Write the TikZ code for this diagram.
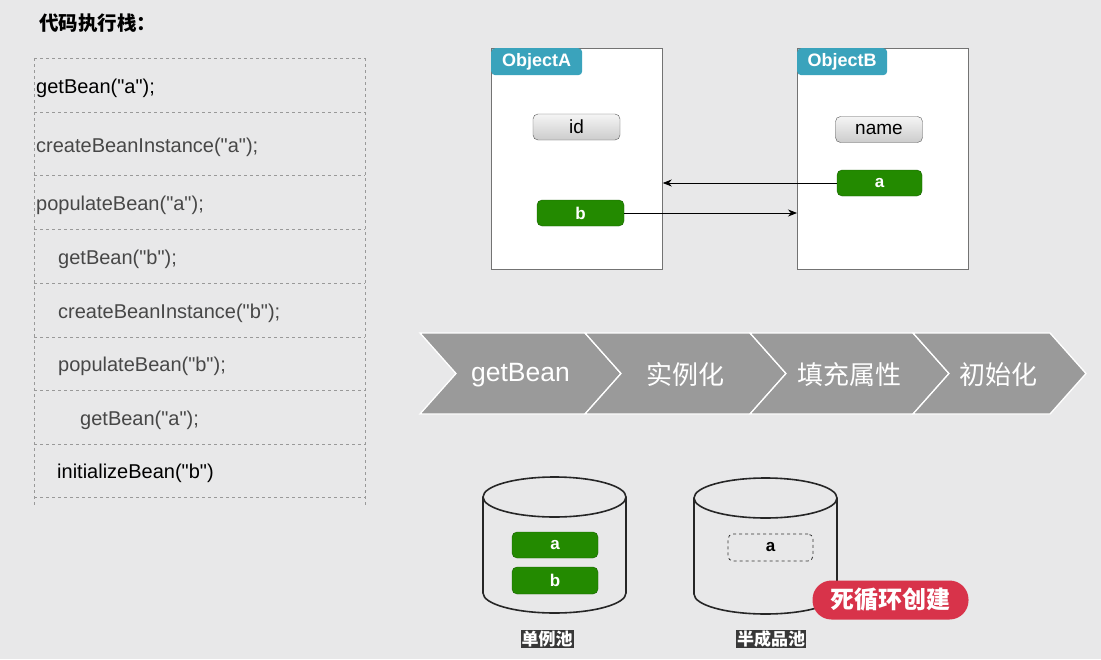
\documentclass[tikz,border=0pt]{standalone}
\usepackage{fontspec}
\setmainfont{Liberation Sans}[Ligatures=TeXOff]
\newfontfamily\cjk{Noto Sans CJK SC}
\usetikzlibrary{arrows.meta}
\definecolor{bg}{HTML}{E8E8E9}
\definecolor{tealtab}{HTML}{3AA3BC}
\definecolor{beangreen}{HTML}{238A00}
\definecolor{chev}{HTML}{9A9A9A}
\definecolor{pill}{HTML}{D8334A}
\definecolor{codegray}{HTML}{474747}
\tikzset{
  codeline/.style={anchor=west, inner sep=0pt, font=\fontsize{20}{20}\selectfont, text=codegray},
  sep/.style={draw=gray!80, dashed, line width=0.6pt},
  objbox/.style={draw=gray!90!black, fill=white, line width=0.8pt},
  tab/.style={fill=tealtab, rounded corners=4pt, text=white, font=\fontsize{18}{18}\selectfont\bfseries, anchor=north west, minimum width=91pt, minimum height=27pt, inner sep=0pt},
  field/.style={draw=gray!70!black, top color=gray!8, bottom color=gray!40, rounded corners=5pt, minimum width=87pt, minimum height=26pt, inner sep=0pt, font=\fontsize{19}{19}\selectfont},
  bean/.style={draw=beangreen!70!black, fill=beangreen, rounded corners=5pt, minimum width=87pt, minimum height=26pt, inner sep=0pt, text=white, font=\fontsize{17}{17}\selectfont\bfseries},
  ptr/.style={-{Stealth[length=9pt,width=7pt]}, line width=0.8pt},
  chevshape/.style={fill=chev, draw=white, line width=1.3pt, line join=miter},
  chevtext/.style={text=white, font=\fontsize{26.5}{26.5}\selectfont},
  chevcjk/.style={text=white, font=\cjk\fontsize{26}{26}\selectfont},
  cyl/.style={draw=black!85, line width=1.6pt},
  poollabel/.style={fill=black!78, text=white, inner sep=1pt, font=\cjk\fontsize{17}{17}\selectfont\bfseries},
}
\begin{document}
\begin{tikzpicture}[x=1pt,y=-1pt]
\useasboundingbox (0,0) rectangle (1101,659);
\fill[bg] (0,0) rectangle (1101,659);

% title
\node[anchor=west, inner sep=0pt, font=\cjk\fontsize{19.5}{19.5}\selectfont\bfseries] (title) at (39,23) {代码执行栈：};

% code stack box
\foreach \yy in {58,112,175,229,283,337,390,444,497} {
  \draw[sep] (34,\yy) -- (365,\yy);
}
\draw[sep] (34,58) -- (34,505);
\draw[sep] (365,58) -- (365,505);
\node[codeline, text=black] (r1) at (36,88) {getBean("a");};
\node[codeline] (r2) at (36,147) {createBeanInstance("a");};
\node[codeline] (r3) at (36,205) {populateBean("a");};
\node[codeline] (r4) at (58,259) {getBean("b");};
\node[codeline] (r5) at (58,313) {createBeanInstance("b");};
\node[codeline] (r6) at (58,366) {populateBean("b");};
\node[codeline] (r7) at (80,420) {getBean("a");};
\node[codeline, text=black] (r8) at (57,473) {initializeBean("b")};

% objects
\node[objbox, anchor=north west, minimum width=171pt, minimum height=221pt, inner sep=0pt] (objA) at (491,48) {};
\node[objbox, anchor=north west, minimum width=171pt, minimum height=221pt, inner sep=0pt] (objB) at (797,48) {};
\node[tab] (tabA) at (491,48) {ObjectA};
\node[tab, minimum width=90pt] (tabB) at (797,48) {ObjectB};
\node[field] (id) at (576.5,127) {id};
\node[field] (name) at (879,129.5) {name};
\node[bean] (b) at (580.5,213) {b};
\node[bean, minimum width=85pt] (a) at (879.5,183) {a};
\draw[ptr] (a.west) -- (a.west -| objA.east);
\draw[ptr] (b.east) -- (b.east -| objB.west);

% chevrons
\def\d{36}
\foreach \l/\r in {420/585,585/750,750/913,913/1050} {
  \draw[chevshape] (\l,333) -- (\r,333) -- (\r+\d,373.5) -- (\r,414) -- (\l,414) -- (\l+\d,373.5) -- cycle;
}
\node[chevtext] (c1) at (520.5,375) {getBean};
\node[chevcjk] (c2) at (685.5,375) {实例化};
\node[chevcjk] (c3) at (849.5,375) {填充属性};
\node[chevcjk] (c4) at (998.5,375) {初始化};

% cylinders
\draw[cyl] (483,497) -- (483,593) arc[start angle=180,end angle=360,x radius=71.5pt,y radius=20pt] -- (626,497);
\draw[cyl] (554.5,497) ellipse[x radius=71.5pt,y radius=20pt];
\draw[cyl] (694,498) -- (694,594) arc[start angle=180,end angle=360,x radius=71.5pt,y radius=20pt] -- (837,498);
\draw[cyl] (765.5,498) ellipse[x radius=71.5pt,y radius=20pt];

\node[bean, minimum width=86pt] (pa) at (555,545) {a};
\node[bean, minimum width=86pt, minimum height=27pt] (pb) at (555,580.5) {b};
\node[draw=black!80, dashed, rounded corners=5pt, minimum width=85pt, minimum height=27pt, inner sep=0pt, font=\fontsize{17}{17}\selectfont\bfseries, line width=0.8pt] (ha) at (770.5,547.5) {a};

\node[fill=pill, text=white, rounded corners=19pt, minimum width=156pt, minimum height=39pt, inner sep=0pt, font=\cjk\fontsize{24}{24}\selectfont\bfseries] (dead) at (890.5,600) {死循环创建};

\node[poollabel] (l1) at (547,639) {单例池};
\node[poollabel] (l2) at (771,639) {半成品池};
\end{tikzpicture}
\end{document}
